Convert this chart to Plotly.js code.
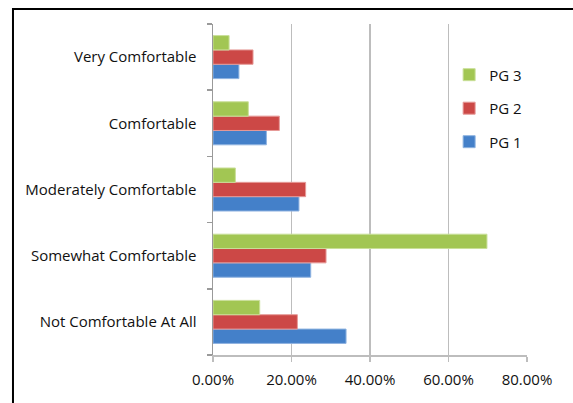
<!DOCTYPE html>
<html>
<head>
<meta charset="utf-8">
<script src="https://cdn.plot.ly/plotly-3.0.1.min.js"></script>
<style>html,body{margin:0;padding:0;background:#fff;}#chart{width:573px;height:403px;}</style>
</head>
<body>
<div id="chart"></div>
<script>
var categories = ["Not Comfortable At All", "Somewhat Comfortable", "Moderately Comfortable", "Comfortable", "Very Comfortable"];
var pg1 = [0.339, 0.249, 0.219, 0.136, 0.066];
var pg2 = [0.215, 0.288, 0.236, 0.169, 0.102];
var pg3 = [0.119, 0.698, 0.057, 0.090, 0.041];
var tickVals = [0, 0.2, 0.4, 0.6, 0.8];
var tickText = ["0.00%", "20.00%", "40.00%", "60.00%", "80.00%"];

var fontFam = "Open Sans, sans-serif";
function tr(name, vals, color, line, grp, rank) {
  return {type: "bar", orientation: "h", name: name, y: categories, x: vals,
    legendgroup: grp, legendrank: rank,
    marker: {color: color, line: {color: line, width: 1}}, hoverinfo: "x+name"};
}
var data = [
  tr("PG 1", pg1, "#4480C9", "#8fb3e0", "a", 3),
  tr("PG 2", pg2, "#CC4846", "#e69a98", "b", 2),
  tr("PG 3", pg3, "#A2C653", "#c9df98", "c", 1)
];
var layout = {
  width: 573, height: 403,
  margin: {l: 213, r: 46, t: 24, b: 48},
  paper_bgcolor: "#fff", plot_bgcolor: "#fff",
  barmode: "group", bargap: 0.35, bargroupgap: 0,
  font: {family: fontFam, size: 15, color: "#111"},
  showlegend: true,
  legend: {x: 0.752, y: 0.896, xanchor: "left", yanchor: "top", traceorder: "grouped",
    tracegroupgap: 11, itemwidth: 30, font: {family: fontFam, size: 15, color: "#111"}, bgcolor: "rgba(0,0,0,0)"},
  xaxis: {range: [0, 0.8], tickvals: tickVals, ticktext: tickText, showgrid: true,
    gridcolor: "#bdbdbd", gridwidth: 1.5, zeroline: false, showline: true, linecolor: "#bdbdbd", linewidth: 1.5,
    ticks: "outside", ticklen: 5, tickcolor: "#bdbdbd", tickwidth: 1.5, ticklabelstandoff: 5,
    fixedrange: true},
  yaxis: {type: "category", range: [-0.5, 4.5], showgrid: false, zeroline: false,
    showline: true, linecolor: "#9a9a9a", linewidth: 1.5, ticks: "outside", tickson: "boundaries",
    ticklen: 5, tickcolor: "#9a9a9a", tickwidth: 1.5, ticklabelstandoff: 12, fixedrange: true},
  shapes: [{type: "rect", xref: "paper", yref: "paper", x0: -0.637, x1: 1.3, y0: -0.3, y1: 1.045,
    line: {color: "#000", width: 2}, fillcolor: "rgba(0,0,0,0)", layer: "below"}]
};
Plotly.newPlot("chart", data, layout, {displayModeBar: false, staticPlot: true});
</script>
</body>
</html>
